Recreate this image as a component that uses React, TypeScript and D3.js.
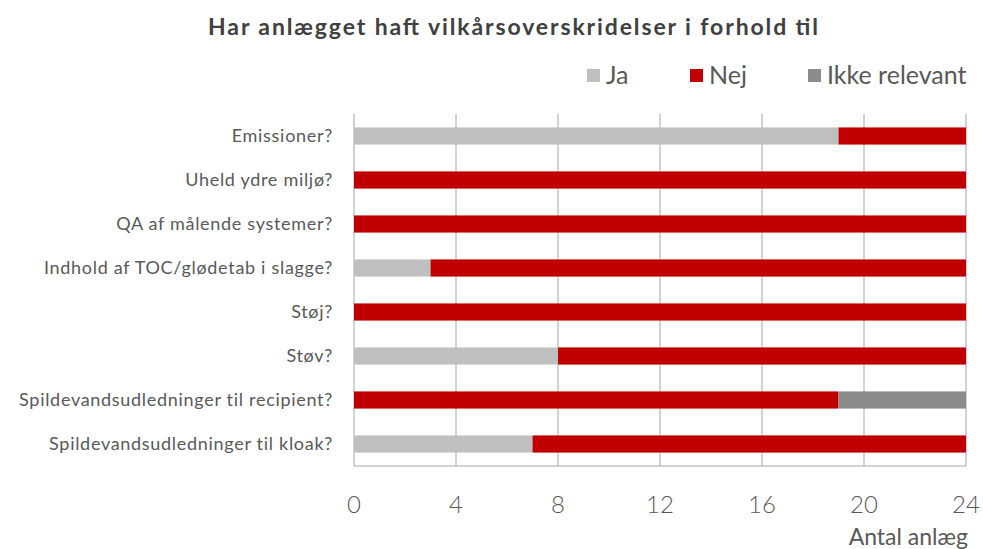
import React, { useRef, useEffect } from "react";
import * as d3 from "d3";

const categories = [
  "Emissioner?",
  "Uheld ydre miljø?",
  "QA af målende systemer?",
  "Indhold af TOC/glødetab i slagge?",
  "Støj?",
  "Støv?",
  "Spildevandsudledninger til recipient?",
  "Spildevandsudledninger til kloak?",
];
const ja = [19, 0, 0, 3, 0, 8, 0, 7];
const nej = [5, 24, 24, 21, 24, 16, 19, 17];
const ikkeRelevant = [0, 0, 0, 0, 0, 0, 5, 0];
const seriesNames = ["Ja", "Nej", "Ikke relevant"];
const xTicks = [0, 4, 8, 12, 16, 20, 24];

const colors = ["#bfbfbf", "#c00000", "#8c8c8c"];
const font = "Lato, 'Open Sans', sans-serif";

function App() {
  const svgRef = useRef<SVGSVGElement>(null);

  useEffect(() => {
    const svg = d3.select(svgRef.current);
    svg.selectAll("*").remove();

    const width = 983;
    const height = 549;
    const margin = { top: 114, right: 17, bottom: 83, left: 354 };

    svg.attr("width", width).attr("height", height);

    const rows = categories.map((c, i) => ({
      cat: c,
      "Ja": ja[i],
      "Nej": nej[i],
      "Ikke relevant": ikkeRelevant[i],
    }));
    const stacked = d3.stack<any>().keys(seriesNames)(rows);

    // scales
    const xScale = d3.scaleLinear()
      .domain([0, 24])
      .range([margin.left, width - margin.right]);

    const yScale = d3.scaleBand()
      .domain(categories)
      .range([margin.top, height - margin.bottom])
      .paddingInner(0.61)
      .paddingOuter(0.305);

    // title
    svg.append("text")
      .attr("x", 208)
      .attr("y", 35)
      .attr("font-family", font)
      .attr("font-weight", "bold")
      .attr("font-size", 23)
      .attr("fill", "#404040")
      .attr("textLength", 610)
      .attr("lengthAdjust", "spacing")
      .text("Har anlægget haft vilkårsoverskridelser i forhold til");

    // legend
    const legendX = [587, 690, 808];
    seriesNames.forEach((name, i) => {
      const g = svg.append("g").attr("transform", `translate(${legendX[i]},75)`);
      g.append("rect")
        .attr("x", 0)
        .attr("y", -6)
        .attr("width", 13)
        .attr("height", 13)
        .attr("fill", colors[i]);
      g.append("text")
        .attr("x", 19)
        .attr("y", 9)
        .attr("font-family", font)
        .attr("font-size", 25)
        .attr("fill", "#595959")
        .text(name);
    });

    // gridlines
    svg.append("g")
      .selectAll("line")
      .data(xTicks)
      .join("line")
      .attr("x1", d => xScale(d))
      .attr("x2", d => xScale(d))
      .attr("y1", margin.top)
      .attr("y2", height - margin.bottom)
      .attr("stroke", "#a6a6a6")
      .attr("stroke-width", 1);

    // bottom axis line
    svg.append("line")
      .attr("x1", xScale(0))
      .attr("x2", xScale(24))
      .attr("y1", height - margin.bottom)
      .attr("y2", height - margin.bottom)
      .attr("stroke", "#a6a6a6");

    // bars
    svg.append("g")
      .selectAll("g")
      .data(stacked)
      .join("g")
      .attr("fill", (d, i) => colors[i])
      .selectAll("rect")
      .data(d => d)
      .join("rect")
      .attr("x", d => xScale(d[0]))
      .attr("width", d => xScale(d[1]) - xScale(d[0]))
      .attr("y", d => yScale(d.data.cat)!)
      .attr("height", yScale.bandwidth());

    // category labels
    svg.append("g")
      .selectAll("text")
      .data(categories)
      .join("text")
      .attr("x", 333)
      .attr("y", d => yScale(d)! + yScale.bandwidth() / 2 + 6)
      .attr("text-anchor", "end")
      .attr("font-family", font)
      .attr("font-size", 18)
      .attr("letter-spacing", 0.7)
      .attr("fill", "#595959")
      .text(d => d);

    // x tick labels
    svg.append("g")
      .selectAll("text")
      .data(xTicks)
      .join("text")
      .attr("x", d => xScale(d))
      .attr("y", 513)
      .attr("text-anchor", "middle")
      .attr("font-family", font)
      .attr("font-weight", 300)
      .attr("font-size", 24)
      .attr("fill", "#595959")
      .text(d => d);

    // axis title
    svg.append("text")
      .attr("x", 968)
      .attr("y", 545)
      .attr("text-anchor", "end")
      .attr("font-family", font)
      .attr("font-size", 23)
      .attr("fill", "#595959")
      .text("Antal anlæg");
  }, []);

  return (
    <div style={{ position: "absolute", left: 0, top: 0 }}>
      <svg ref={svgRef} style={{ display: "block", background: "#fff" }}></svg>
    </div>
  );
}

export default App;
